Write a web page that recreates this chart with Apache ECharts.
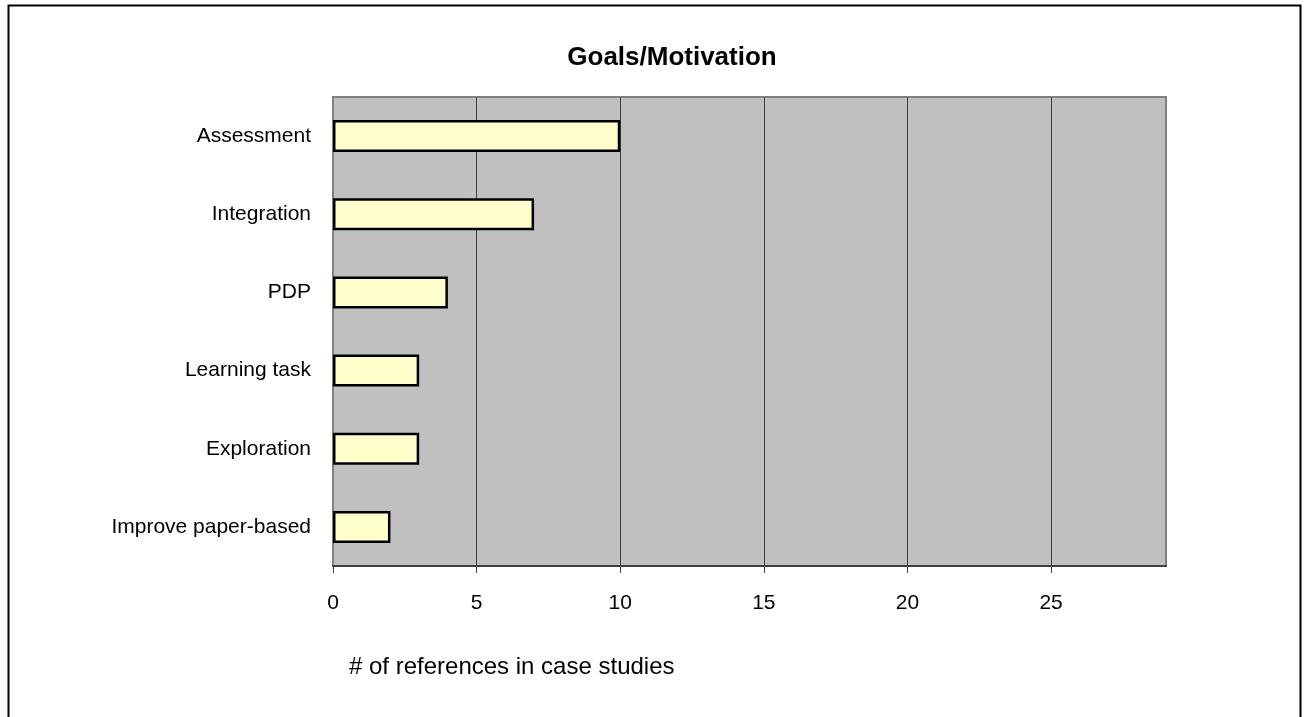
<!DOCTYPE html>
<html>
<head>
<meta charset="utf-8">
<script src="https://cdn.jsdelivr.net/npm/echarts@6/dist/echarts.min.js"></script>
<style>
  html, body { margin: 0; padding: 0; background: #fff; }
  #chart { width: 1304px; height: 717px; }
</style>
</head>
<body>
<div id="chart"></div>
<script>
// Goals/Motivation: number of references in case studies per goal
const categories = ['Assessment', 'Integration', 'PDP', 'Learning task', 'Exploration', 'Improve paper-based'];
const references = [10, 7, 4, 3, 3, 2];
const xTicks = [0, 5, 10, 15, 20, 25];
const xMax = 29;

const chart = echarts.init(document.getElementById('chart'));
const font = '"Liberation Sans", Arial, sans-serif';

chart.setOption({
  animation: false,
  backgroundColor: '#ffffff',
  textStyle: { fontFamily: font },
  title: {
    text: 'Goals/Motivation',
    left: 667,
    top: 40,
    textAlign: 'center',
    textStyle: { fontFamily: font, fontSize: 26, fontWeight: 'bold', color: '#000' }
  },
  graphic: [
    {
      type: 'rect',
      shape: { x: 8.5, y: 5.5, width: 1292, height: 740 },
      style: { fill: 'none', stroke: '#000', lineWidth: 2 },
      silent: true
    },
    {
      type: 'text',
      left: 349,
      top: 655,
      style: { text: '# of references in case studies', font: '24px ' + font, fill: '#000' }
    }
  ],
  grid: {
    left: 333,
    right: 138,
    top: 97,
    bottom: 151,
    show: true,
    backgroundColor: '#c0c0c0',
    borderColor: '#808080',
    borderWidth: 2
  },
  xAxis: {
    type: 'value',
    min: 0,
    max: xMax,
    interval: 5,
    axisLine: { show: true, lineStyle: { color: '#404040', width: 2 } },
    axisTick: { show: true, length: 7, customValues: xTicks, lineStyle: { color: '#404040', width: 1 } },
    axisLabel: { customValues: xTicks, margin: 27, fontSize: 21, color: '#000', fontFamily: font },
    splitLine: { show: true, lineStyle: { color: '#404040', width: 1 } }
  },
  yAxis: {
    type: 'category',
    data: categories,
    inverse: true,
    axisLine: { show: true, lineStyle: { color: '#808080', width: 2 } },
    axisTick: { show: false },
    axisLabel: { margin: 22, fontSize: 21, color: '#000', fontFamily: font },
    splitLine: { show: false }
  },
  series: [{
    type: 'bar',
    data: references,
    barWidth: 32,
    itemStyle: { color: '#ffffcc', borderColor: '#000', borderWidth: 2.5 }
  }]
});
</script>
</body>
</html>
